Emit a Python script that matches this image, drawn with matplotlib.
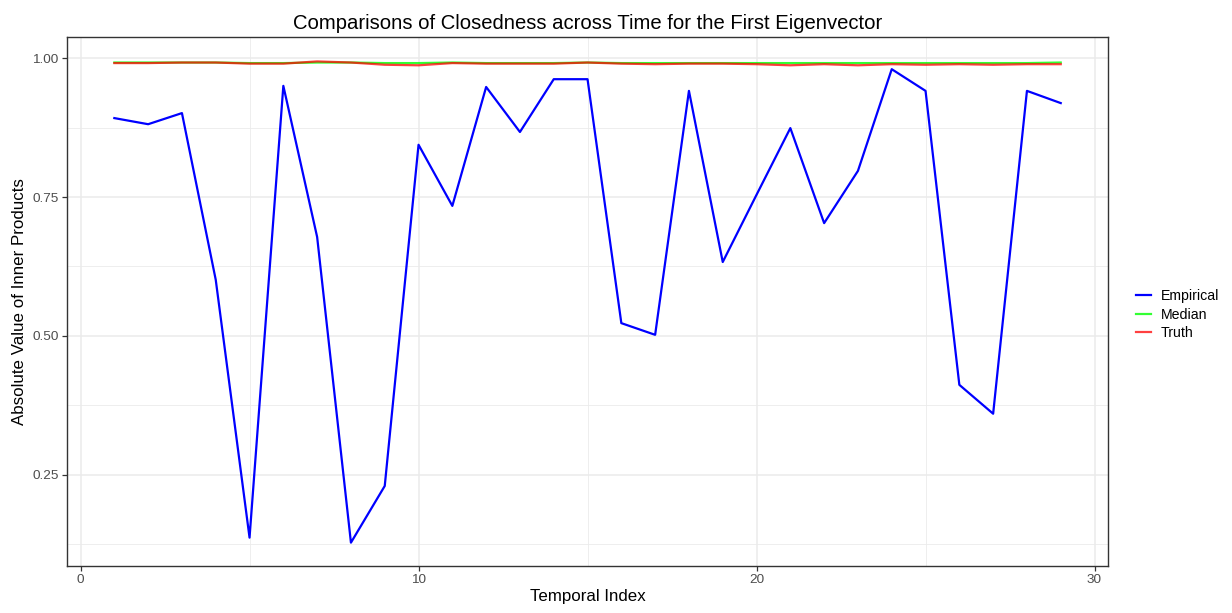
import numpy as np
import matplotlib.pyplot as plt
from matplotlib.ticker import MultipleLocator

plt.rcParams['font.family'] = ['Liberation Sans', 'DejaVu Sans']

# Inner products per temporal index
t = np.arange(1, 30)
empirical = [0.892, 0.881, 0.901, 0.601, 0.137, 0.950, 0.678, 0.128, 0.230, 0.844,
             0.734, 0.948, 0.867, 0.962, 0.962, 0.523, 0.502, 0.941, 0.633, 0.754,
             0.874, 0.703, 0.797, 0.980, 0.941, 0.412, 0.360, 0.941, 0.919]
median = [0.992, 0.992, 0.992, 0.992, 0.991, 0.991, 0.992, 0.992, 0.991, 0.991,
          0.992, 0.991, 0.991, 0.991, 0.992, 0.991, 0.991, 0.991, 0.991, 0.991,
          0.991, 0.991, 0.991, 0.991, 0.991, 0.991, 0.991, 0.991, 0.992]
truth = [0.991, 0.991, 0.992, 0.992, 0.990, 0.990, 0.994, 0.992, 0.988, 0.987,
         0.991, 0.990, 0.990, 0.990, 0.992, 0.990, 0.989, 0.990, 0.990, 0.989,
         0.987, 0.989, 0.987, 0.989, 0.988, 0.989, 0.988, 0.989, 0.989]

fig = plt.figure(figsize=(12.32, 6.13), dpi=100)
ax = fig.add_axes([0.0544, 0.0767, 0.845, 0.863])

ax.plot(t, empirical, color='#0000FF', lw=1.6, label='Empirical')
ax.plot(t, median, color='#00FF00', lw=1.6, label='Median', alpha=0.8)
ax.plot(t, truth, color='#FF0000', lw=1.6, label='Truth', alpha=0.75)

ax.set_xlim(-0.4, 30.4)
ax.set_ylim(0.086, 1.038)
ax.xaxis.set_major_locator(MultipleLocator(10))
ax.xaxis.set_minor_locator(MultipleLocator(5))
ax.set_yticks([0.25, 0.50, 0.75, 1.00])
ax.set_yticklabels(['0.25', '0.50', '0.75', '1.00'])
ax.set_yticks([0.125, 0.375, 0.625, 0.875], minor=True)

ax.grid(which='major', color='#EBEBEB', lw=1.1)
ax.grid(which='minor', color='#EBEBEB', lw=0.6)
ax.set_axisbelow(True)
for s in ax.spines.values():
    s.set_color('#333333')
    s.set_linewidth(1.0)
ax.tick_params(which='major', length=3.5, color='#333333', labelcolor='#4D4D4D',
               labelsize=9.7, width=0.9, pad=2.5)
ax.tick_params(which='minor', length=0)

ax.set_xlabel('Temporal Index', fontsize=12.2, labelpad=2)
ax.set_ylabel('Absolute Value of Inner Products', fontsize=12.2, labelpad=4)
ax.set_title('Comparisons of Closedness across Time for the First Eigenvector',
             fontsize=14.6, pad=6)

leg = ax.legend(loc='center left', bbox_to_anchor=(1.0144, 0.475), frameon=False,
                fontsize=10.2, handlelength=1.06, handletextpad=0.7, labelspacing=0.3)

fig.savefig('out.png', dpi=100)
